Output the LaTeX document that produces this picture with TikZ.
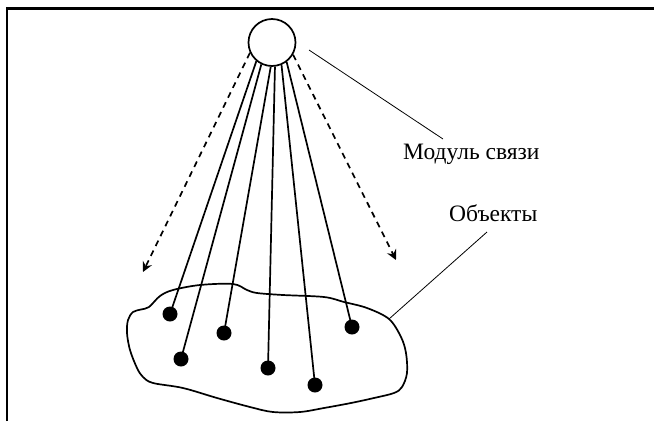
\documentclass[tikz,border=0pt]{standalone}
\usepackage{fontspec}
\setmainfont{Liberation Serif}
\usetikzlibrary{arrows.meta}
\tikzset{
  frameline/.style={line width=2.4pt, line cap=butt, line join=miter},
  hubstyle/.style={circle, draw, line width=1.7pt, minimum size=47pt, inner sep=0pt},
  dot/.style={circle, fill=black, minimum size=15pt, inner sep=0pt},
  wire/.style={line width=1.7pt},
  probe/.style={line width=1.7pt, dash pattern=on 6pt off 5pt,
    -{Stealth[length=10pt,width=10pt,inset=3.5pt]}},
  leader/.style={line width=0.8pt},
  outline/.style={line width=1.7pt, line join=round},
  caption/.style={font=\fontsize{23.5}{27}\selectfont, inner sep=0pt, anchor=base west}
}
\begin{document}
\begin{tikzpicture}[x=1pt, y=-1pt]
  \useasboundingbox (0,0) rectangle (654,421);

  % open frame: left and top edges
  \draw[frameline] (6.7,421) -- (6.7,8.3) -- (654,8.3);

  % outline of the group of objects
  \draw[outline] plot[smooth cycle, tension=0.55] coordinates {
    (149,307) (160,296) (173,290) (200,285) (233,284) (247,290) (257,293)
    (283,295) (324,297) (344,302) (367,308) (389,319) (401,337) (406,353)
    (407,373) (402,387) (394,393) (374,398) (351,403) (324,408) (300,412)
    (273,412) (250,407) (217,398) (183,388) (153,383) (143,377) (137,368)
    (130,350) (127,333) (128,320) (133,312) (141,309.5)};
  \coordinate (blobtip) at (389,319);

  % communication module
  \node[hubstyle] (hub) at (272,42.5) {};

  % objects
  \node[dot] (d1) at (170,314) {};
  \node[dot] (d2) at (181,359) {};
  \node[dot] (d3) at (224,333) {};
  \node[dot] (d4) at (268,368) {};
  \node[dot] (d5) at (315,385) {};
  \node[dot] (d6) at (352,327) {};

  % links from the module to each object
  \draw[wire] (hub.230) -- (d1.center);
  \draw[wire] (hub.244) -- (d2.center);
  \draw[wire] (hub.267) -- (d3.center);
  \draw[wire] (hub.277) -- (d4.center);
  \draw[wire] (hub.293) -- (d5.center);
  \draw[wire] (hub.307) -- (d6.center);

  % outward dashed arrows
  \coordinate (leftend) at (143,272);
  \coordinate (rightend) at (396,260);
  \draw[probe] (hub.205) -- (leftend);
  \draw[probe] (hub.330) -- (rightend);

  % labels with leader lines
  \node[caption] (lblmod) at (403,159) {Модуль связи};
  \node[caption] (lblobj) at (449,221) {Объекты};
  \coordinate (modfoot) at (443,139);
  \coordinate (modhead) at (309,50);
  \coordinate (objfoot) at (487,232);
  \draw[leader] (modhead) -- (modfoot);
  \draw[leader] (objfoot) -- (blobtip);
\end{tikzpicture}
\end{document}
